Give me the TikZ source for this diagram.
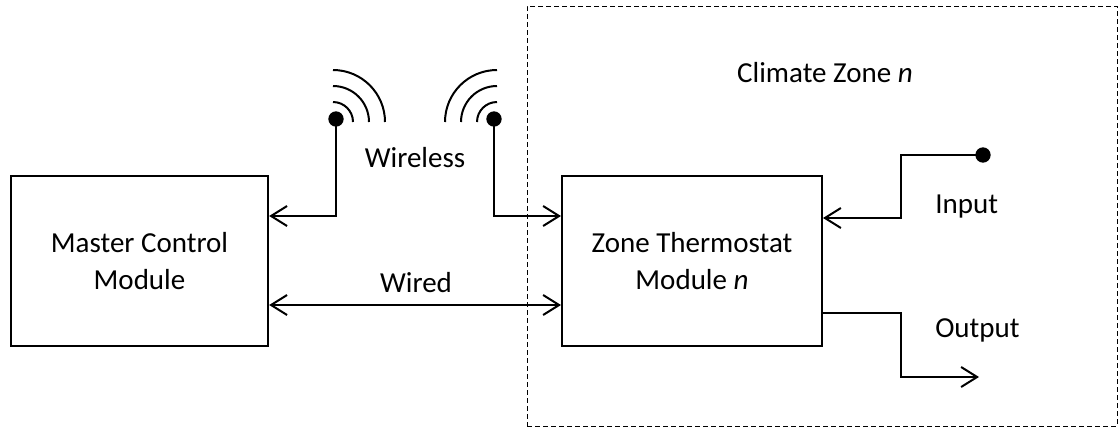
\documentclass[tikz,border=0pt]{standalone}
\usepackage{fontspec}
\setmainfont{Carlito}
\usepackage{tikz}
\usetikzlibrary{calc,shapes,arrows,arrows.meta,positioning}
\tikzstyle{module} = [rectangle, draw, line width=1.5pt, minimum width=193pt, minimum height=127.5pt, align=center]
\tikzstyle{zonearea} = [rectangle, draw, line width=0.75pt, dash pattern=on 3.75pt off 2.25pt, minimum width=442.5pt, minimum height=315pt]
\tikzstyle{arrow} = [line width=1.5pt,-{Straight Barb[length=12pt,width=15pt]}]
\tikzstyle{arrow2} = [line width=1.5pt,{Straight Barb[length=12pt,width=15pt]}-{Straight Barb[length=12pt,width=15pt]}]
\tikzstyle{wave} = [line width=1.5pt]
\tikzstyle{txt} = [anchor=base, inner sep=0pt]

\begin{document}
\begin{tikzpicture}[x=0.75pt,y=-0.75pt,font=\fontsize{21.75}{28}\selectfont]
\useasboundingbox (0,0) rectangle (1119,429);
\node (zonebox) [zonearea] at (822,216) {};
\node (zonelbl) [txt] at (825,82) {Climate Zone \textit{n}};
\node (master) [module] at (139.5,261) {Master Control\\Module};
\node (thermo) [module, minimum width=195pt] at (692,261) {Zone Thermostat\\Module \textit{n}};
\coordinate (antL) at (336,119);
\coordinate (antR) at (494,119);
\coordinate (inDot) at (983,155);
\coordinate (inBend) at (901,155);
\coordinate (outBend) at (901,377);
\coordinate (outEnd) at (979,377);
\node (wless) [txt] at (415,167) {Wireless};
\node (wired) [txt] at (416,292) {Wired};
\node (inlbl) [txt, anchor=base west] at (935,213) {Input};
\node (outlbl) [txt, anchor=base west] at (935,337) {Output};
\foreach \r in {20,36,52} {
  \draw [wave] ($(antL)+(-3,3)$) ++(0,-\r) arc[start angle=90, end angle=0, radius={\r*0.75pt}];
  \draw [wave] ($(antR)+(3,3)$) ++(0,-\r) arc[start angle=90, end angle=180, radius={\r*0.75pt}];
}
\fill (antL) circle[radius=5.75pt];
\fill (antR) circle[radius=5.75pt];
\fill (inDot) circle[radius=5.75pt];
\draw [arrow] (antL) |- ($(master.east)+(0,-45)$);
\draw [arrow] (antR) |- ($(thermo.west)+(0,-45)$);
\draw [arrow2] ($(master.east)+(0,44)$) -- ($(thermo.west)+(0,44)$);
\draw [arrow] (inDot) -- (inBend) |- ($(thermo.east)+(0,-43)$);
\draw [arrow] ($(thermo.east)+(0,52)$) -| (outBend) -- (outEnd);
\end{tikzpicture}
\end{document}
